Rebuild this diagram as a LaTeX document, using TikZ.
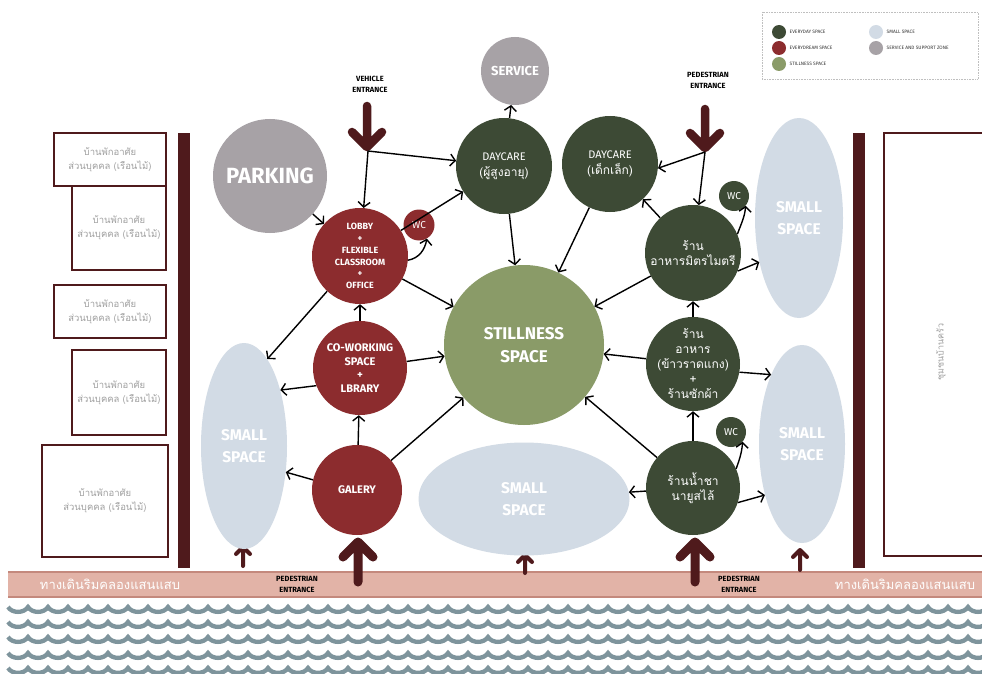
\documentclass[tikz,border=0pt]{standalone}
\usepackage{fontspec}
\setmainfont{Fira Sans}
\newfontfamily\thaifont[Script=Thai]{Loma}
\usetikzlibrary{arrows.meta,shapes.geometric}

\begin{document}
\begin{tikzpicture}[x=1pt,y=-1pt,
  spot/.style={circle,inner sep=0pt,align=center,text=white},
  everyday/.style={spot,fill=kEveryday},
  dream/.style={spot,fill=kDream},
  service/.style={spot,fill=kService},
  stillness/.style={spot,fill=kStill},
  smallspace/.style={ellipse,inner sep=0pt,align=center,text=white,fill=kSmall,
    font=\bfseries\fontsize{15.5pt}{22pt}\selectfont},
  house/.style={draw=kMaroon,line width=1.8pt,fill=white,text=kHouseText,align=center,
    font=\thaifont\fontsize{9.5pt}{14pt}\selectfont},
  link/.style={line width=1.4pt,-{Straight Barb[length=5pt,width=12pt]}},
  gate/.style={draw=kMaroon,line cap=round,line join=round},
  tag/.style={align=center,font=\bfseries\fontsize{7.5pt}{11pt}\selectfont}]
  % colors
  \definecolor{kEveryday}{HTML}{3D4A35}
  \definecolor{kDream}{HTML}{8C2C2E}
  \definecolor{kStill}{HTML}{8A9B68}
  \definecolor{kSmall}{HTML}{D2DBE5}
  \definecolor{kService}{HTML}{A7A2A6}
  \definecolor{kMaroon}{HTML}{4F1A1C}
  \definecolor{kBand}{HTML}{E2B3A7}
  \definecolor{kBandEdge}{HTML}{C4897D}
  \definecolor{kWave}{HTML}{7E949C}
  \definecolor{kHouseText}{HTML}{A0A0A0}
  % frame
  \useasboundingbox (0,0) rectangle (982,674);
  \fill[white] (0,0) rectangle (982,674);
  % legend
  \draw[gray!50,densely dotted,line width=0.6pt] (762,12) rectangle (978,79);
  \foreach \x/\y/\c/\t in {779/32/kEveryday/EVERYDAY SPACE, 779/48/kDream/EVERYDREAM SPACE, 779/64/kStill/STILLNESS SPACE, 876/32/kSmall/SMALL SPACE, 876/48/kService/SERVICE AND SUPPORT ZONE}
    \node[spot,fill=\c,minimum size=14pt,
      label={[font=\fontsize{4.8pt}{5pt}\selectfont,text=black!80]east:\t}] (key-\c) at (\x,\y) {};
  % walls
  \fill[kMaroon] (178,133) rectangle (190,568);
  \fill[kMaroon] (853,133) rectangle (865,568);
  % houses
  \node[house,minimum width=94pt,minimum height=84pt] (h2) at (119,228) {บ้านพักอาศัย\\ส่วนบุคคล (เรือนไม้)};
  \node[house,minimum width=112pt,minimum height=53pt] (h1) at (110,159.5) {บ้านพักอาศัย\\ส่วนบุคคล (เรือนไม้)};
  \node[house,minimum width=112pt,minimum height=53pt] (h3) at (110,311.5) {บ้านพักอาศัย\\ส่วนบุคคล (เรือนไม้)};
  \node[house,minimum width=94pt,minimum height=85pt] (h4) at (119,392.5) {บ้านพักอาศัย\\ส่วนบุคคล (เรือนไม้)};
  \node[house,minimum width=126pt,minimum height=112pt] (h5) at (105,501) {บ้านพักอาศัย\\ส่วนบุคคล (เรือนไม้)};
  \draw[kMaroon,line width=1.8pt,fill=white] (884,133) rectangle (995,556);
  \node[rotate=90,text=kHouseText,font=\thaifont\fontsize{9pt}{10pt}\selectfont] (road) at (941,352) {ชุมชนบ้านครัว};
  % canal walk
  \fill[kBand] (8,571) rectangle (982,598);
  \draw[kBandEdge,line width=2pt] (8,572) -- (982,572);
  \draw[kBandEdge,line width=2pt] (8,597) -- (982,597);
  \node[text=white,font=\thaifont\fontsize{13pt}{14pt}\selectfont] (walk-l) at (110,584) {ทางเดินริมคลองแสนแสบ};
  \node[text=white,font=\thaifont\fontsize{13pt}{14pt}\selectfont] (walk-r) at (905,584) {ทางเดินริมคลองแสนแสบ};
  \node[tag] (ped-l) at (297,584) {PEDESTRIAN\\ENTRANCE};
  \node[tag] (ped-r) at (739,584) {PEDESTRIAN\\ENTRANCE};
  % waves
  \foreach \y in {607,622,637,653,668}
    \draw[kWave,line width=4.3pt] (8,\y) \foreach \i in {0,...,48} { .. controls ({12+20*\i},{\y+6.5}) and ({24+20*\i},{\y+6.5}) .. ({28+20*\i},\y) };
  % entrances
  \node[tag] (veh) at (370,84) {VEHICLE\\ENTRANCE};
  \node[tag] (ped) at (708,80) {PEDESTRIAN\\ENTRANCE};
  \foreach \x/\a/\b/\s/\w in {367/106/147/15/8.5pt, 705/109/148/15/8.5pt, 358/582/542/15/9pt, 695/582/542/15/9pt, 243/566/547/7/4pt, 525/573/555/7/4pt, 800/570/550/7/4pt}
    \draw[gate,line width=\w] (\x,\a) -- (\x,\b) ({\x-\s},{\b-\s*sign(\b-\a)}) -- (\x,\b) -- ({\x+\s},{\b-\s*sign(\b-\a)});
  \coordinate (vehtip) at (368,151);
  \coordinate (pedtip) at (705,152);
  % spaces
  \node[service,minimum size=68pt,font=\bfseries\fontsize{13pt}{14pt}\selectfont] (service) at (515,71) {SERVICE};
  \node[service,minimum size=114pt,font=\bfseries\fontsize{22pt}{24pt}\selectfont] (parking) at (270,176) {PARKING};
  \node[everyday,minimum size=96pt,font=\fontsize{11pt}{16pt}\selectfont] (day1) at (504,166) {DAYCARE\\{\thaifont\fontsize{12pt}{16pt}\selectfont (ผู้สูงอายุ)}};
  \node[everyday,minimum size=96pt,font=\fontsize{11pt}{16pt}\selectfont] (day2) at (610,164) {DAYCARE\\{\thaifont\fontsize{12pt}{16pt}\selectfont (เด็กเล็ก)}};
  \node[dream,minimum size=96pt,font=\bfseries\fontsize{9pt}{11.8pt}\selectfont] (lobby) at (360,256) {LOBBY\\+\\FLEXIBLE\\CLASSROOM\\+\\OFFICE};
  \node[dream,minimum size=31pt,font=\fontsize{10pt}{12pt}\selectfont] (wc1) at (419,225) {WC};
  \node[everyday,minimum size=96pt,font=\thaifont\fontsize{12pt}{15pt}\selectfont] (mitr) at (693,253) {ร้าน\\อาหารมิตรไมตรี};
  \node[everyday,minimum size=30pt,font=\fontsize{10pt}{12pt}\selectfont] (wc2) at (734,196) {WC};
  \node[stillness,minimum size=160pt,font=\bfseries\fontsize{17pt}{23pt}\selectfont] (still) at (524,345) {STILLNESS\\SPACE};
  \node[dream,minimum size=94pt,font=\bfseries\fontsize{11pt}{13.5pt}\selectfont] (cowork) at (360,368) {CO-WORKING\\SPACE\\+\\LBRARY};
  \node[everyday,minimum size=94pt,inner sep=-10pt,font=\thaifont\fontsize{12pt}{15pt}\selectfont] (khao) at (693,364) {ร้าน\\อาหาร\\(ข้าวราดแกง)\\+\\ร้านซักผ้า};
  \node[everyday,minimum size=30pt,font=\fontsize{10pt}{12pt}\selectfont] (wc3) at (731,432) {WC};
  \node[dream,minimum size=90pt,font=\bfseries\fontsize{11pt}{13pt}\selectfont] (galery) at (357,490) {GALERY};
  \node[everyday,minimum size=94pt,font=\thaifont\fontsize{12pt}{15pt}\selectfont] (tea) at (693,488) {ร้านน้ำชา\\นายูสไล้};
  \node[smallspace,minimum width=211pt,minimum height=113pt] (smid) at (524,499) {SMALL\\SPACE};
  \node[smallspace,minimum width=86pt,minimum height=206pt] (sleft) at (244,446) {SMALL\\SPACE};
  \node[smallspace,minimum width=88pt,minimum height=200pt] (srt) at (799,218) {SMALL\\SPACE};
  \node[smallspace,minimum width=86pt,minimum height=198pt] (srb) at (802,444) {SMALL\\SPACE};
  % links
  \draw[link] (vehtip) -- (lobby);
  \draw[link] (vehtip) -- (day1);
  \draw[link] (parking) -- (lobby);
  \draw[link] (lobby) -- (day1);
  \draw[link] (day1) -- (service);
  \draw[link] (day1) -- (still);
  \draw[link] (day2) -- (still);
  \draw[link] (pedtip) -- (day2.-5);
  \draw[link] (pedtip) -- (mitr);
  \draw[link] (mitr) -- (day2);
  \draw[link] (mitr.23) to[out=70,in=-95] (wc2.-40);
  \draw[link] (mitr.-22) -- (srt.228);
  \draw[link] (mitr) -- (still);
  \draw[link] (khao) -- (mitr);
  \draw[link] (khao) -- (still);
  \draw[link] (khao.-10) -- (srb.114);
  \draw[link] (tea) -- (khao);
  \draw[link] (tea.24) to[out=70,in=-95] (wc3.-40);
  \draw[link] (tea.-18) -- (srb.234);
  \draw[link] (tea) -- (smid);
  \draw[link] (tea) -- (still);
  \draw[link] (lobby.-5) to[out=10,in=-100] (wc1.-60);
  \draw[link] (lobby) -- (still);
  \draw[link] (lobby.227) -- (sleft.75);
  \draw[link] (cowork) -- (lobby);
  \draw[link] (cowork) -- (still);
  \draw[link] (cowork.202) -- (sleft.57);
  \draw[link] (galery) -- (cowork);
  \draw[link] (galery) -- (still);
  \draw[link] (galery.167) -- (sleft.-32);
\end{tikzpicture}
\end{document}
